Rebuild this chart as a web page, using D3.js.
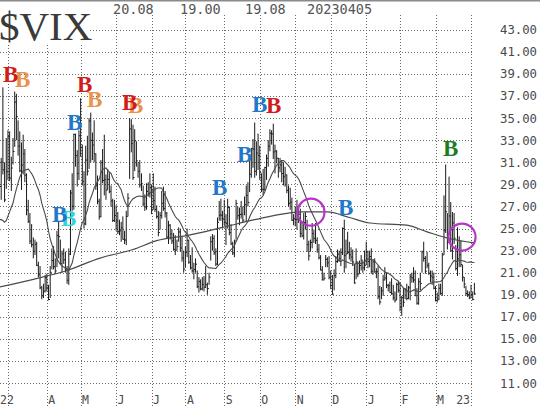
<!DOCTYPE html>
<html><head><meta charset="utf-8">
<script src="https://cdn.jsdelivr.net/npm/d3@7"></script>
<style>body{margin:0;background:#fff}svg{display:block}</style>
</head><body>
<svg id="c" width="540" height="406"></svg>
<script>
// ---- data (daily VIX bars, 2022-02-22 .. 2023-04-05) ----
const preClose = [31.16,31.96,30.49,27.66,24.83,21.96,22.09,24.35,23.22,22.86,21.44,19.96,23.91,27.36,28.33,25.70,24.29,28.11,27.75];
const high = [
 31.0,31.4,37.79,31.0,33.2,
 33.9,33.8,31.5,33.2,37.4,37.2,34.8,33.8,32.8,33.5,32.2,30.0,27.6,26.4,25.4,24.2,24.0,23.8,22.0,21.6,19.8,20.0,20.8,
 20.9,19.9,21.6,23.2,23.4,22.3,24.8,25.7,24.0,23.0,23.2,22.9,21.6,23.2,28.5,30.0,33.6,33.6,32.1,33.9,
 36.8,32.6,30.2,32.5,33.4,35.0,35.5,33.7,34.8,31.8,29.8,27.7,31.2,32.2,33.5,29.9,30.4,30.1,28.9,27.7,27.6,
 27.1,26.5,25.8,25.6,26.1,24.8,26.6,28.2,35.0,34.9,34.4,34.0,32.9,31.0,31.2,30.0,28.9,28.1,29.1,29.2,30.0,
 29.0,30.0,28.8,27.1,26.6,26.5,28.4,28.8,28.4,26.5,25.7,25.4,24.9,24.6,24.4,24.0,25.1,25.0,24.3,23.0,
 23.4,25.0,24.0,22.6,23.3,21.9,22.3,21.2,20.6,20.4,20.6,20.7,21.6,20.1,21.0,24.3,24.5,24.4,23.2,26.0,27.5,27.7,26.6,
 27.6,26.3,27.7,27.0,25.4,23.8,24.0,27.6,27.0,26.9,27.5,27.0,27.9,28.9,29.2,31.2,32.3,33.1,34.6,32.9,33.6,
 32.5,30.0,30.4,30.6,31.7,33.0,34.0,33.9,34.5,32.6,32.1,31.4,31.4,31.2,31.0,30.6,29.9,28.9,28.7,27.8,26.3,
 27.0,27.6,27.1,26.8,25.6,26.4,26.5,25.8,23.9,24.0,25.5,24.9,25.5,24.2,23.6,22.6,21.6,21.0,22.6,22.4,22.5,
 21.2,20.8,21.3,22.5,23.1,23.0,23.2,25.1,25.8,24.0,24.7,23.8,23.3,23.1,21.8,23.2,22.0,22.1,22.6,22.1,23.0,
 23.8,23.0,23.0,23.2,22.2,22.3,21.4,21.6,19.8,19.7,20.8,21.5,21.0,20.0,20.2,20.5,19.9,19.3,20.1,20.2,
 20.1,18.9,19.6,19.6,20.0,19.8,20.9,21.0,21.5,21.2,19.6,20.5,21.0,23.0,23.8,22.5,22.9,21.9,21.2,
 21.2,21.0,19.8,19.2,20.0,20.0,22.8,28.0,30.8,26.4,29.7,27.4,26.5,26.4,23.5,25.1,24.3,23.9,21.7,20.6,19.8,19.4,19.3,
 19.9,19.3,20.08];
const low = [
 27.0,27.6,29.9,27.4,28.6,
 29.4,29.3,28.4,30.8,32.4,33.0,31.6,30.1,28.5,29.9,29.2,26.2,25.5,23.6,23.3,22.3,22.6,21.6,20.6,19.5,18.6,18.7,19.2,
 19.3,18.5,18.7,21.3,21.3,20.9,21.5,22.3,21.8,21.0,21.8,21.0,20.0,19.9,22.6,26.6,26.7,30.6,28.8,29.4,
 31.5,28.9,25.0,25.3,29.8,30.4,31.0,31.2,31.0,28.5,27.2,25.8,26.0,29.1,28.0,27.6,28.5,28.2,27.0,25.6,25.6,
 24.8,24.5,24.4,23.8,24.0,23.6,23.5,26.1,29.5,31.9,29.4,30.2,30.6,29.6,28.7,28.4,27.0,26.6,26.7,27.9,27.8,
 26.3,26.7,26.5,25.9,24.3,24.9,25.9,26.6,26.0,24.1,23.6,24.0,23.6,23.0,22.6,23.0,23.8,22.9,22.0,21.0,
 21.5,22.4,21.8,21.3,21.0,20.4,21.0,19.6,19.2,19.4,19.4,19.3,19.6,19.0,19.9,22.1,23.0,22.6,21.6,21.7,25.7,25.7,25.0,
 25.3,23.5,25.0,24.4,23.5,22.6,22.4,24.0,25.8,25.3,25.9,25.5,26.2,25.6,27.0,28.3,29.6,30.5,29.6,29.8,30.3,
 29.4,28.3,28.0,28.4,29.4,30.6,32.0,32.6,31.3,30.0,30.9,29.6,30.1,29.2,28.9,28.8,28.2,27.0,26.7,25.7,25.3,
 25.2,24.9,25.5,24.2,24.2,24.0,24.9,22.9,22.1,22.9,23.2,23.7,23.6,22.8,22.2,21.2,20.3,20.3,21.5,21.5,20.4,
 19.5,19.0,19.4,20.5,21.9,22.0,21.6,22.6,21.0,21.4,22.7,22.2,22.0,21.6,20.0,20.4,20.6,20.9,21.2,21.0,21.2,
 21.7,21.4,21.5,20.9,20.8,21.0,20.5,18.6,18.1,18.6,18.9,20.3,19.6,19.3,19.2,19.0,18.5,18.3,18.5,19.2,
 17.5,17.1,17.9,18.6,18.5,18.6,18.5,20.1,20.1,18.9,18.1,18.1,19.4,21.0,22.0,20.9,21.4,20.8,20.1,
 19.9,19.5,18.4,18.3,18.5,19.0,18.9,22.6,24.6,23.1,24.6,22.9,22.2,23.6,21.2,20.7,21.5,21.5,20.2,19.6,18.9,18.8,18.6,
 18.7,18.5,19.00];
const close = [
 28.81,31.02,30.32,27.59,30.15,
 33.32,29.57,30.48,31.98,36.45,35.13,32.45,30.23,30.75,31.77,29.83,26.67,25.67,23.87,23.53,22.94,23.57,21.67,20.81,19.63,18.90,19.33,20.56,
 19.63,18.57,21.03,22.10,21.55,21.16,24.37,24.26,21.82,22.70,22.17,21.37,20.32,22.68,28.21,27.02,33.52,31.60,29.99,33.40,
 32.34,29.25,25.42,31.20,30.19,34.75,32.99,32.56,31.77,28.87,27.47,26.10,30.96,29.35,29.43,28.48,29.45,28.37,27.50,25.72,26.19,
 25.69,24.72,24.79,25.07,24.02,23.96,26.09,27.75,34.02,32.69,29.62,32.95,31.13,30.19,28.95,29.05,27.23,26.95,28.36,28.16,28.71,
 26.70,27.54,26.73,26.08,24.64,26.17,27.29,26.82,26.40,24.23,25.30,24.50,23.88,23.11,23.03,23.36,24.69,23.24,22.33,21.33,
 22.84,23.93,21.95,21.44,21.15,21.29,21.77,19.74,20.20,19.53,19.95,19.69,19.90,19.56,20.60,23.80,24.11,22.82,21.78,25.56,26.21,26.21,25.87,
 25.56,25.47,26.91,24.64,23.61,22.79,23.87,27.27,26.16,26.27,26.30,25.76,27.16,27.99,27.35,29.92,32.26,32.18,30.18,31.84,31.62,
 30.10,28.55,28.55,30.52,31.36,32.45,33.63,33.57,31.94,32.02,31.37,30.50,30.76,29.98,29.69,29.85,28.46,27.28,27.39,25.75,25.88,
 25.81,25.86,26.30,24.55,24.35,25.54,26.09,23.53,22.52,23.73,24.54,24.11,23.93,23.12,22.36,21.24,20.35,20.50,22.21,21.89,20.58,
 19.84,19.06,20.75,22.01,22.68,22.29,22.83,25.00,22.55,22.70,22.83,22.62,22.42,21.97,20.07,21.97,20.87,21.65,22.14,21.44,21.67,
 22.90,22.01,22.46,21.13,21.97,21.07,21.09,18.83,18.35,19.36,20.34,20.52,19.85,19.81,19.20,19.08,18.73,18.51,19.94,19.40,
 17.87,18.73,18.33,19.43,18.66,19.63,20.63,20.53,20.34,18.91,18.23,20.17,20.02,22.87,22.29,21.14,21.67,20.95,20.70,
 20.58,19.59,18.49,18.61,19.59,19.11,22.61,24.80,26.52,23.73,26.14,22.99,25.51,24.12,21.38,22.26,22.61,21.74,20.60,19.97,19.12,19.02,18.70,
 19.00,18.58,19.08];

// 200-day moving average at a few bar indices
const ma200Idx = [0,20,40,59,79,93,112,132,151,171,179,194,207,219,241,253,266,281];
const ma200Val = [19.7,20.4,21.2,22.3,23.1,23.9,24.4,25.1,25.8,26.4,26.5,26.5,26.0,25.5,25.3,24.7,24.1,23.7];

// axes
const monthTickIdx = [5,28,48,69,90,110,133,154,175,196,217,237,258,279];
const monthLabels  = ["22","A","M","J","J","A","S","O","N","D","J","F","M","23"];
const yTicks = [43,41,39,37,35,33,31,29,27,25,23,21,19,17,15,13,11];
const headerTexts = ["20.08","19.00","19.08","20230405"];
const headerX = [113,180,245,307];

// signal annotations
const sigLabel = ["B","B","B","B","B","B","B","B","B","B","B","B","B","B","B"];
const sigIdx   = [9.2,2.1,51.8,45.9,39.9,76.0,72.5,36.4,31.1,125.7,140.5,149.4,157.7,200.3,262.4];
const sigVal   = [37.82,38.27,36.0,37.37,33.92,35.46,35.74,25.23,25.59,28.04,31.03,35.55,35.46,26.22,31.57];
const sigColor = ["#e8924c","#cf1d1d","#e8924c","#cf1d1d","#1f78c9","#e8924c","#cf1d1d","#36d3d3","#1f78c9","#1f78c9","#1f78c9","#1f78c9","#cf1d1d","#1f78c9","#1e7d22"];
const circleIdx = [184.3,273.7];
const circleVal = [26.48,24.23];

// ---- drawing ----
const svg = d3.select("#c");
const n = close.length;
const x = d3.scaleLinear().domain([0, n - 1]).range([-0.5, 474.4]);
const y = d3.scaleLinear().domain([11, 43]).range([383.1, 29.8]);
const gridRight = 473;

// grid
const grid = svg.append("g").attr("stroke", "#6a6a6a").attr("stroke-width", 1).attr("stroke-dasharray", "1,2").attr("shape-rendering","crispEdges");
grid.selectAll("line.h").data(yTicks).join("line")
  .attr("x1", 0).attr("x2", gridRight)
  .attr("y1", d => Math.round(y(d)) + 0.5).attr("y2", d => Math.round(y(d)) + 0.5);
grid.selectAll("line.v").data(monthTickIdx).join("line")
  .attr("x1", d => Math.round(x(d)) + 0.5).attr("x2", d => Math.round(x(d)) + 0.5)
  .attr("y1", 15).attr("y2", 406);

// bars (high-low with close tick)
const bars = svg.append("g").attr("stroke", "#1a1a1a").attr("stroke-width", 1);
bars.selectAll("line").data(d3.range(n)).join("line")
  .attr("x1", i => x(i)).attr("x2", i => x(i))
  .attr("y1", i => y(high[i])).attr("y2", i => y(low[i]));
bars.append("g").selectAll("line").data(d3.range(n)).join("line")
  .attr("x1", i => x(i)).attr("x2", i => x(i) + 1.5)
  .attr("y1", i => y(close[i])).attr("y2", i => y(close[i]));

// moving averages
const all = preClose.concat(close);
const ma20 = d3.range(n).map(i => d3.mean(all.slice(i, i + 20)));
svg.append("path").datum(ma20)
  .attr("fill", "none").attr("stroke", "#4a4a4a").attr("stroke-width", 1.1)
  .attr("d", d3.line().x((d, i) => x(i)).y(d => y(d)));
svg.append("path").datum(ma200Idx.map((d, k) => [d, ma200Val[k]]))
  .attr("fill", "none").attr("stroke", "#4a4a4a").attr("stroke-width", 1.2)
  .attr("d", d3.line().x(d => x(d[0])).y(d => y(d[1])).curve(d3.curveMonotoneX));

// signal letters
svg.append("g").selectAll("text").data(d3.range(sigLabel.length)).join("text")
  .attr("x", k => x(sigIdx[k])).attr("y", k => y(sigVal[k]))
  .attr("fill", k => sigColor[k])
  .attr("font-family", "'Liberation Serif','Times New Roman',serif")
  .attr("font-weight", "bold").attr("font-size", 23)
  .text(k => sigLabel[k]);

// circles
svg.append("g").selectAll("circle").data(d3.range(circleIdx.length)).join("circle")
  .attr("cx", k => x(circleIdx[k])).attr("cy", k => y(circleVal[k])).attr("r", 13.5)
  .attr("fill", "none").attr("stroke", "#b536c6").attr("stroke-width", 2.2);

// title
svg.append("rect").attr("x", 0).attr("y", 0).attr("width", 90).attr("height", 44).attr("fill", "#fff");
svg.append("text").attr("x", -1).attr("y", 40)
  .attr("font-family", "'Liberation Serif','Times New Roman',serif").attr("font-size", 41)
  .attr("fill", "#3a3a3a").text("$VIX");

// top border
svg.append("rect").attr("x", 0).attr("y", 0).attr("width", 540).attr("height", 1.5).attr("fill", "#8a8a8a");

// header values
svg.append("g").selectAll("text").data(headerTexts).join("text")
  .attr("x", (d, k) => headerX[k]).attr("y", 14)
  .attr("font-family", "'DejaVu Sans Mono',monospace").attr("font-size", 13.5)
  .attr("fill", "#555").text(d => d);

// right axis labels
svg.append("g").selectAll("text").data(yTicks).join("text")
  .attr("x", 500).attr("y", d => y(d)).attr("dy", "0.36em")
  .attr("font-family", "'DejaVu Sans Mono',monospace").attr("font-size", 12.3)
  .attr("fill", "#4a4a4a").text(d => d.toFixed(2));

// bottom month labels
svg.append("g").selectAll("text").data(monthLabels).join("text")
  .attr("x", (d, k) => k === 0 ? 0 : (k === monthLabels.length - 1 ? x(monthTickIdx[k]) - 1 : x(monthTickIdx[k]) + 1.5))
  .attr("text-anchor", (d, k) => k === monthLabels.length - 1 ? "end" : "start")
  .attr("y", 404)
  .attr("font-family", "'DejaVu Sans Mono',monospace").attr("font-size", 11.5)
  .attr("fill", "#4a4a4a").text(d => d);
</script>
</body></html>
